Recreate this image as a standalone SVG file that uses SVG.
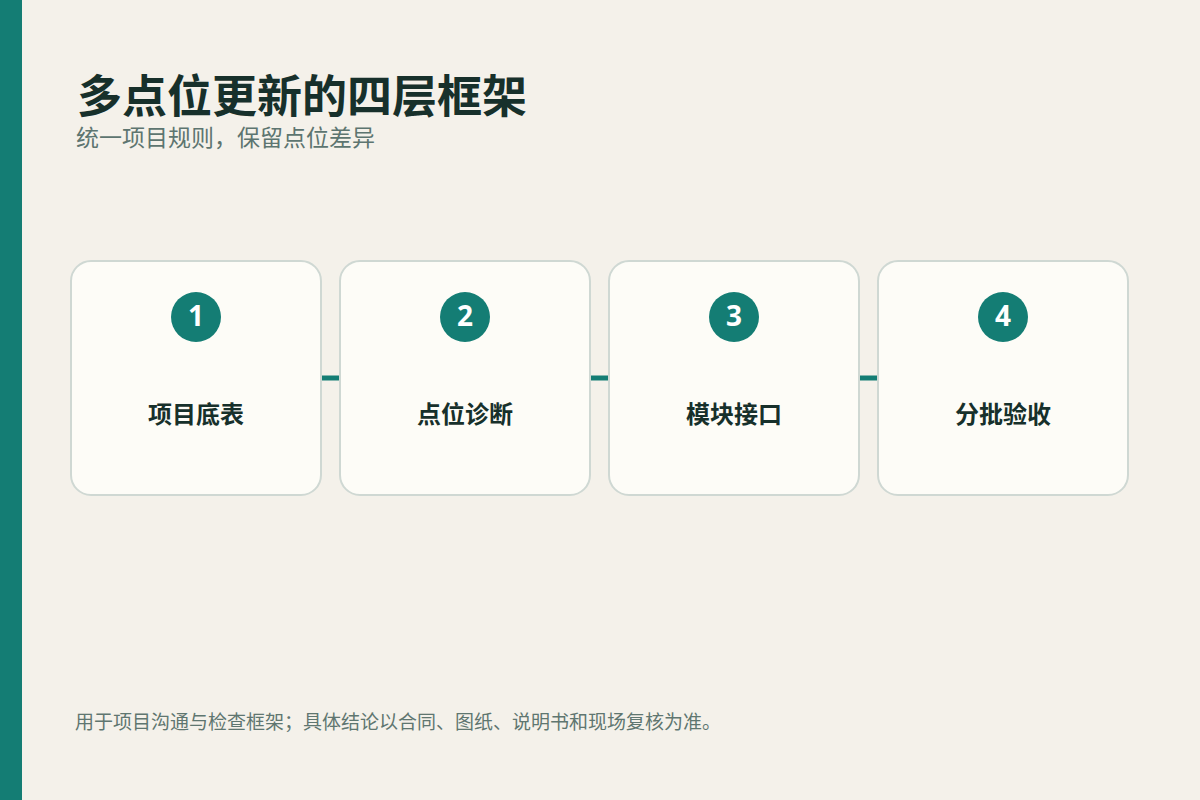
<svg xmlns="http://www.w3.org/2000/svg" width="1200" height="800" viewBox="0 0 1200 800">
  <defs>
    <style>
      .cjk { font-family: "Noto Sans CJK SC", "Noto Sans", sans-serif; }
      .title { font-size: 45px; font-weight: 700; fill: #17302b; }
      .subtitle { font-size: 23px; font-weight: 400; fill: #5d7570; }
      .footer { font-size: 19px; font-weight: 400; fill: #5f7670; }
      .card { fill: #fdfcf7; stroke: #cfd8d3; stroke-width: 2; }
      .badge { fill: #147d74; }
      .num { font-family: "Noto Sans", "Open Sans", sans-serif; font-size: 28px; font-weight: 700; fill: #ffffff; text-anchor: middle; }
      .label { font-size: 24px; font-weight: 700; fill: #17302b; text-anchor: middle; }
      .conn { stroke: #147d74; stroke-width: 5; fill: none; }
    </style>
  </defs>

  <rect x="0" y="0" width="1200" height="800" fill="#f4f1ea"/>
  <rect x="0" y="0" width="22" height="800" fill="#147d74"/>

  <g id="header">
    <text class="cjk title" x="77" y="113">多点位更新的四层框架</text>
    <text class="cjk subtitle" x="76" y="146">统一项目规则，保留点位差异</text>
  </g>

  <g id="connectors">
    <line class="conn" x1="321" y1="378" x2="340" y2="378"/>
    <line class="conn" x1="590" y1="378" x2="609" y2="378"/>
    <line class="conn" x1="859" y1="378" x2="878" y2="378"/>
  </g>

  <g id="step1">
    <rect class="card" x="71" y="261" width="250" height="234" rx="20" ry="20"/>
    <circle class="badge" cx="196" cy="317" r="25"/>
    <text class="num" x="196" y="326">1</text>
    <text class="cjk label" x="196" y="423">项目底表</text>
  </g>

  <g id="step2">
    <rect class="card" x="340" y="261" width="250" height="234" rx="20" ry="20"/>
    <circle class="badge" cx="465" cy="317" r="25"/>
    <text class="num" x="465" y="326">2</text>
    <text class="cjk label" x="465" y="423">点位诊断</text>
  </g>

  <g id="step3">
    <rect class="card" x="609" y="261" width="250" height="234" rx="20" ry="20"/>
    <circle class="badge" cx="734" cy="317" r="25"/>
    <text class="num" x="734" y="326">3</text>
    <text class="cjk label" x="734" y="423">模块接口</text>
  </g>

  <g id="step4">
    <rect class="card" x="878" y="261" width="250" height="234" rx="20" ry="20"/>
    <circle class="badge" cx="1003" cy="317" r="25"/>
    <text class="num" x="1003" y="326">4</text>
    <text class="cjk label" x="1003" y="423">分批验收</text>
  </g>

  <g id="footer">
    <text class="cjk footer" x="75" y="729">用于项目沟通与检查框架；具体结论以合同、图纸、说明书和现场复核为准。</text>
  </g>
</svg>
